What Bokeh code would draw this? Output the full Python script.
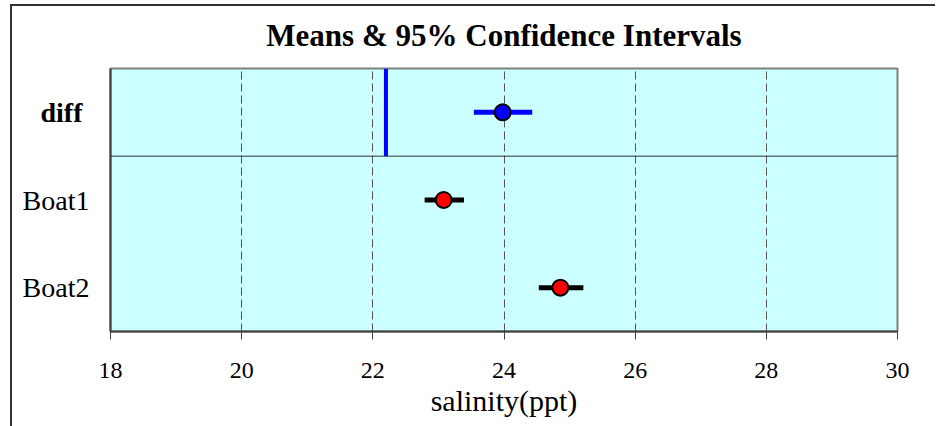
from bokeh.plotting import figure
from bokeh.models import (ColumnDataSource, FixedTicker, Span, LinearAxis,
                          Range1d, InlineStyleSheet)
from bokeh.embed import file_html
from bokeh.resources import INLINE

# group means of salinity with 95% confidence limits
groups = ["Boat1", "Boat2"]
group_mean = [23.08, 24.86]
group_lo = [22.79, 24.53]
group_hi = [23.39, 25.21]

# difference of the means, drawn on the shifted scale of the top row
diff_label = "diff"
diff_mean = 23.98
diff_lo = 23.54
diff_hi = 24.43
diff_zero = 22.2

x_ticks = [18, 20, 22, 24, 26, 28, 30]

SERIF = "Liberation Serif"
W, H = 937, 426
n_rows = len(groups) + 1
# rows run top to bottom: diff, Boat1, Boat2
group_rows = [n_rows - 1.5 - i for i in range(len(groups))]
diff_row = n_rows - 0.5

p = figure(width=W, height=H, output_backend="svg", toolbar_location=None,
           x_range=Range1d(x_ticks[0], x_ticks[-1]), y_range=Range1d(0, n_rows),
           title="Means & 95% Confidence Intervals",
           min_border_left=110, min_border_right=40,
           min_border_top=67, min_border_bottom=95)

p.background_fill_color = "#CCFFFF"
p.border_fill_color = "white"
p.outline_line_color = "#808080"
p.outline_line_width = 2

# thin frame lines along the top and left of the whole chart
p.stylesheets = [InlineStyleSheet(css=(
    ":host::after { content: ''; position: absolute; z-index: 10; "
    "box-sizing: border-box; pointer-events: none; left: 10px; top: 4px; "
    f"width: {W - 12}px; height: {H - 4}px; "
    "border-left: 2px solid #333; border-top: 2px solid #333; }"))]

p.title.align = "center"
p.title.text_font = SERIF
p.title.text_font_size = "31px"
p.title.text_font_style = "bold"
p.title.text_color = "black"
p.title.standoff = 31

# x axis
xa = p.xaxis[0]
xa.ticker = FixedTicker(ticks=x_ticks)
xa.axis_label = "salinity(ppt)"
xa.axis_label_text_font = SERIF
xa.axis_label_text_font_size = "30px"
xa.axis_label_text_font_style = "normal"
xa.axis_label_text_color = "black"
xa.axis_label_standoff = 3
xa.major_label_text_font = SERIF
xa.major_label_text_font_size = "24px"
xa.major_label_text_color = "black"
xa.major_label_standoff = 23
xa.major_tick_out = 8
xa.major_tick_in = 0
xa.minor_tick_out = 0
xa.minor_tick_in = 0
xa.axis_line_color = "#404040"
xa.axis_line_width = 2
xa.major_tick_line_color = "#404040"

# inner y axis: the bold label of the difference row
ya = p.yaxis[0]
ya.ticker = FixedTicker(ticks=[diff_row])
ya.major_label_overrides = {diff_row: diff_label}
ya.major_label_text_font = SERIF
ya.major_label_text_font_size = "28px"
ya.major_label_text_font_style = "bold"
ya.major_label_text_color = "black"
ya.major_label_standoff = 28
ya.major_tick_out = 0
ya.major_tick_in = 0
ya.minor_tick_out = 0
ya.minor_tick_in = 0
ya.axis_line_color = "#404040"
ya.axis_line_width = 2

# outer y axis: group names, pulled back next to the frame
yg = LinearAxis(ticker=FixedTicker(ticks=group_rows),
                major_label_overrides={r: g for r, g in zip(group_rows, groups)},
                major_label_text_font=SERIF, major_label_text_font_size="28px",
                major_label_text_color="black", major_label_standoff=-52,
                major_tick_out=0, major_tick_in=0, minor_tick_out=0, minor_tick_in=0,
                axis_line_color=None)
p.add_layout(yg, "left")

p.xgrid.grid_line_color = "#555555"
p.xgrid.grid_line_dash = "8 4"
p.xgrid.grid_line_width = 1
p.ygrid.grid_line_color = None

# divider between the difference row and the group rows
p.add_layout(Span(location=n_rows - 1, dimension="width",
                  line_color="#333333", line_width=1))

# zero-difference reference line
p.segment(x0=[diff_zero], y0=[n_rows - 1], x1=[diff_zero], y1=[n_rows],
          line_color="#0000FF", line_width=4)

# difference interval and mean
p.segment(x0=[diff_lo], y0=[diff_row], x1=[diff_hi], y1=[diff_row],
          line_color="#0000FF", line_width=5)
p.scatter(x=[diff_mean], y=[diff_row], size=16, fill_color="#0000FF",
          line_color="black", line_width=2)

# group intervals and means
src = ColumnDataSource(dict(mean=group_mean, lo=group_lo, hi=group_hi, row=group_rows))
p.segment(x0="lo", y0="row", x1="hi", y1="row", source=src,
          line_color="black", line_width=5)
p.scatter(x="mean", y="row", source=src, size=16, fill_color="#FF0000",
          line_color="black", line_width=2)

open("out.html", "w").write(file_html(p, INLINE))
